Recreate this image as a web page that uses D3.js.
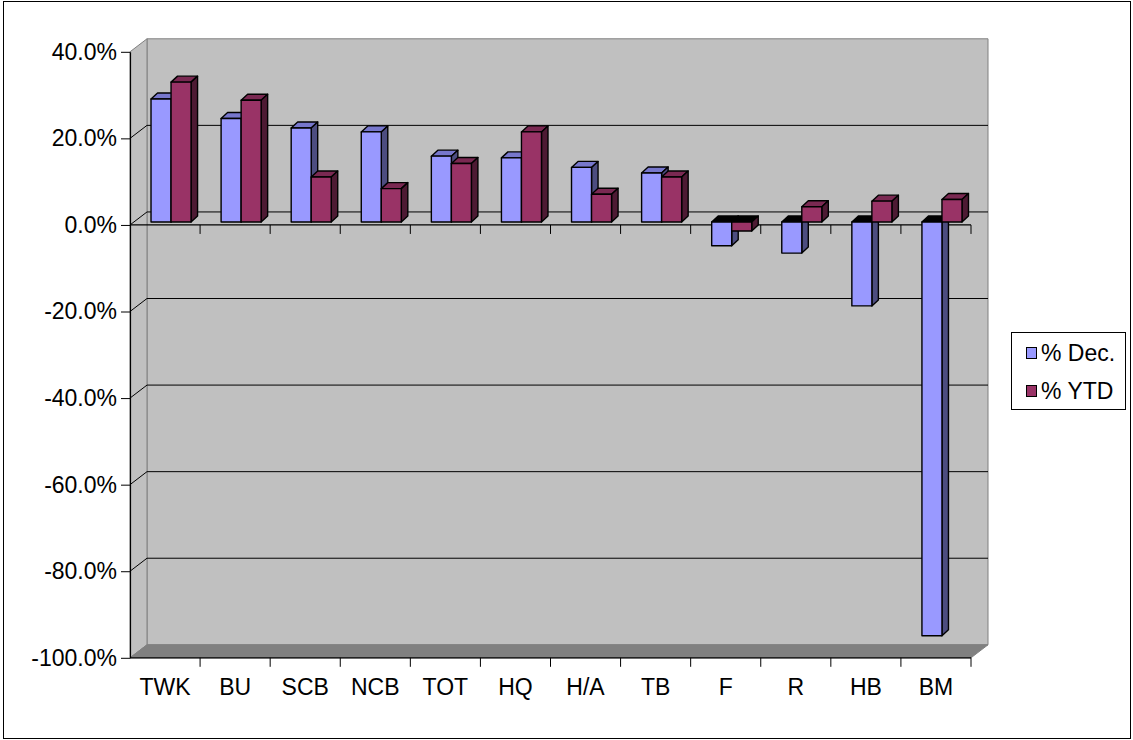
<!DOCTYPE html>
<html>
<head>
<meta charset="utf-8">
<script src="https://cdn.jsdelivr.net/npm/d3@7"></script>
<style>
  html, body { margin: 0; padding: 0; background: #fff; }
  svg text { font-family: "Liberation Sans", Arial, sans-serif; fill: #000; }
</style>
</head>
<body>
<svg id="chart" width="1133" height="740"></svg>
<script>
// ---- data ----
const categories = ["TWK", "BU", "SCB", "NCB", "TOT", "HQ", "H/A", "TB", "F", "R", "HB", "BM"];
const pctDec = [0.284, 0.239, 0.217, 0.208, 0.152, 0.148, 0.126, 0.113, -0.055, -0.072, -0.194, -0.956];
const pctYTD = [0.323, 0.281, 0.104, 0.077, 0.135, 0.208, 0.064, 0.104, -0.021, 0.035, 0.048, 0.052];
const seriesNames = ["% Dec.", "% YTD"];
const yTicks = [0.4, 0.2, 0, -0.2, -0.4, -0.6, -0.8, -1.0];

// ---- layout ----
const svg = d3.select("#chart");
const plotLeft = 130, plotRight = 971, plotTop = 51.8, plotBottom = 657.8;
const DX = 17, DY = -13;            // wall depth offset
const FDX = 6, FDY = -3;            // bar front-face offset
const BDX = 12.5, BDY = -9;         // bar back-face offset

const colors = {
  dec: { front: "#9999FF", top: "#7777CC", side: "#4D4D80", negTop: "#000000" },
  ytd: { front: "#993366", top: "#7A2952", side: "#4D1A33", negTop: "#000000" }
};

const y = d3.scaleLinear().domain([-1, 0.4]).range([plotBottom, plotTop]);
const x = d3.scaleBand().domain(categories).range([plotLeft, plotRight]).paddingInner(0).paddingOuter(0);
const sub = d3.scaleBand().domain(["dec", "ytd"]).range([0, x.bandwidth()]).paddingInner(0).paddingOuter(0.75);
const pctFmt = d3.formatLocale({ decimal: ".", thousands: ",", grouping: [3], currency: ["", ""], minus: "-" }).format(".1%");

// outer border
svg.append("rect").attr("x", 3.5).attr("y", 1.5).attr("width", 1127).attr("height", 737)
  .attr("fill", "#fff").attr("stroke", "#000").attr("stroke-width", 1);

const line = d3.line();

// back wall
const yTop = y(0.4), yBot = y(-1);
svg.append("path")
  .attr("d", line([[plotLeft + DX, yTop + DY], [plotRight + DX, yTop + DY], [plotRight + DX, yBot + DY], [plotLeft + DX, yBot + DY]]) + "Z")
  .attr("fill", "#C0C0C0").attr("stroke", "#808080").attr("stroke-width", 1);
// side wall
svg.append("path")
  .attr("d", line([[plotLeft, yTop], [plotLeft + DX, yTop + DY], [plotLeft + DX, yBot + DY], [plotLeft, yBot]]) + "Z")
  .attr("fill", "#C0C0C0").attr("stroke", "#808080").attr("stroke-width", 1);
// floor
svg.append("path")
  .attr("d", line([[plotLeft, yBot], [plotLeft + DX, yBot + DY], [plotRight + DX, yBot + DY], [plotRight, yBot]]) + "Z")
  .attr("fill", "#808080").attr("stroke", "#808080").attr("stroke-width", 1);

// gridlines (back wall + side wall)
const grid = svg.append("g");
yTicks.filter(t => t < 0.4 && t > -1).forEach(t => {
  grid.append("path")
    .attr("d", line([[plotLeft, y(t)], [plotLeft + DX, y(t) + DY], [plotRight + DX, y(t) + DY]]))
    .attr("fill", "none").attr("stroke", "#000").attr("stroke-width", 1);
});

// front category axis line at 0 with ticks
const zeroAxis = svg.append("g");
zeroAxis.append("line").attr("x1", plotLeft).attr("x2", plotRight).attr("y1", y(0)).attr("y2", y(0))
  .attr("stroke", "#000").attr("stroke-width", 1.2);
zeroAxis.selectAll("line.tk").data(categories).join("line").attr("class", "tk")
  .attr("x1", d => x(d) + x.bandwidth()).attr("x2", d => x(d) + x.bandwidth())
  .attr("y1", y(0)).attr("y2", y(0) + 9).attr("stroke", "#000").attr("stroke-width", 1);

// ---- bars ----
const rows = categories.map((c, i) => ({ c, dec: pctDec[i], ytd: pctYTD[i] }));
const barsG = svg.append("g");
rows.forEach(r => {
  ["dec", "ytd"].forEach(k => {
    const v = r[k];
    const x0 = x(r.c) + sub(k), x1 = x0 + sub.bandwidth();
    const yv = y(v), y0 = y(0);
    const hi = Math.min(yv, y0), lo = Math.max(yv, y0);
    const col = colors[k];
    const g = barsG.append("g").attr("stroke", "#000").attr("stroke-width", 1.4).attr("stroke-linejoin", "round");
    const F = (px, py) => [px + FDX, py + FDY];
    const B = (px, py) => [px + BDX, py + BDY];
    g.append("path")
      .attr("d", line([F(x0, hi), B(x0, hi), B(x1, hi), F(x1, hi)]) + "Z")
      .attr("fill", v < 0 ? col.negTop : col.top);
    g.append("path")
      .attr("d", line([F(x1, hi), B(x1, hi), B(x1, lo), F(x1, lo)]) + "Z")
      .attr("fill", col.side);
    g.append("path")
      .attr("d", line([F(x0, hi), F(x1, hi), F(x1, lo), F(x0, lo)]) + "Z")
      .attr("fill", col.front);
  });
});

// ---- value axis ----
const yAxis = svg.append("g").attr("transform", `translate(${plotLeft},0)`)
  .call(d3.axisLeft(y).tickValues(yTicks).tickFormat(pctFmt).tickSize(9).tickSizeOuter(0).tickPadding(4));
yAxis.select(".domain").attr("stroke", "#000").attr("stroke-width", 1.2);
yAxis.selectAll(".tick line").attr("stroke", "#000");
yAxis.selectAll(".tick text").attr("font-size", 23).attr("font-family", "Liberation Sans, Arial, sans-serif").attr("fill", "#000");

// ---- category axis (bottom) ----
const bot = svg.append("g");
bot.append("line").attr("x1", plotLeft).attr("x2", plotRight).attr("y1", plotBottom).attr("y2", plotBottom)
  .attr("stroke", "#000").attr("stroke-width", 1.2);
bot.selectAll("line.tk").data(categories).join("line").attr("class", "tk")
  .attr("x1", d => x(d) + x.bandwidth()).attr("x2", d => x(d) + x.bandwidth())
  .attr("y1", plotBottom).attr("y2", plotBottom + 9).attr("stroke", "#000").attr("stroke-width", 1);
const xAxis = svg.append("g").attr("transform", `translate(0,${plotBottom})`)
  .call(d3.axisBottom(x).tickSize(0).tickPadding(21));
xAxis.select(".domain").remove();
xAxis.selectAll(".tick text").attr("font-size", 23).attr("font-family", "Liberation Sans, Arial, sans-serif").attr("fill", "#000");

// ---- legend ----
const legend = svg.append("g");
legend.append("rect").attr("x", 1011.5).attr("y", 332.5).attr("width", 114).attr("height", 77)
  .attr("fill", "#fff").attr("stroke", "#000").attr("stroke-width", 1);
const legendItems = [{ name: seriesNames[0], color: colors.dec.front }, { name: seriesNames[1], color: colors.ytd.front }];
const li = legend.selectAll("g.li").data(legendItems).join("g").attr("class", "li")
  .attr("transform", (d, i) => `translate(1026,${347 + i * 38})`);
li.append("rect").attr("x", 0.5).attr("y", 0.5).attr("width", 10).attr("height", 11)
  .attr("fill", d => d.color).attr("stroke", "#000").attr("stroke-width", 1);
li.append("text").attr("x", 15).attr("y", 13.5).attr("font-size", 23).text(d => d.name);
</script>
</body>
</html>
